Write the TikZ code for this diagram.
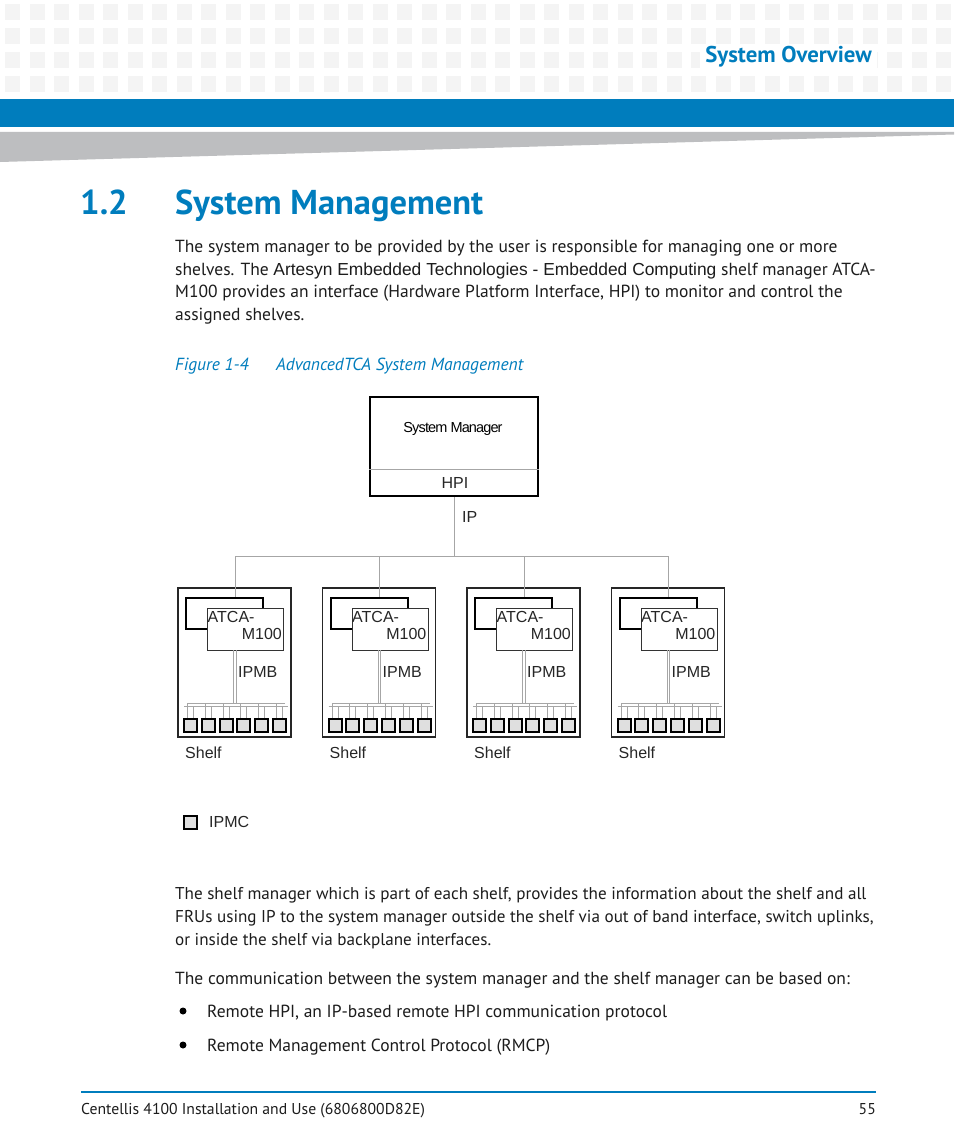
\documentclass[tikz,border=0pt]{standalone}
\usepackage{fontspec}
\setmainfont{PT Sans}
\newfontfamily\arialfont{Liberation Sans}
\newfontfamily\arialtight[LetterSpace=-6]{Liberation Sans}
\usetikzlibrary{positioning}
\definecolor{emblue}{RGB}{0,125,189}
\definecolor{tilegray}{RGB}{244,244,244}
\definecolor{wedgegray}{RGB}{189,190,192}
\definecolor{bodyblack}{RGB}{28,28,28}

\begin{document}
\begin{tikzpicture}[x=1pt,y=-1pt,
 body/.style={anchor=base west,inner sep=0pt,text=bodyblack,font=\fontsize{17.5}{23}\selectfont},
 bodynarrow/.style={body,font=\fontsize{17.1}{23}\selectfont},
 lbl/.style={inner sep=0pt,text=black!85,font=\arialfont\fontsize{16}{18}\selectfont},
 wire/.style={draw=gray!70,line width=0.9pt},
 shelfbox/.style={draw=black!85,line width=1.8pt,minimum width=113pt,minimum height=149pt,inner sep=0pt},
 backbox/.style={draw=black,line width=2pt,minimum width=77pt,minimum height=31pt,inner sep=0pt},
 frontbox/.style={draw=black!80,line width=0.8pt,fill=white,minimum width=76pt,minimum height=42pt,inner sep=0pt},
 ipmc/.style={draw=black,line width=2pt,fill=gray!25,minimum width=13pt,minimum height=13pt,inner sep=0pt},
 bulletdot/.style={circle,fill=black,minimum size=7pt,inner sep=0pt}]
\useasboundingbox (0,0) rectangle (954,1145);
\fill[white] (0,0) rectangle (954,1145);

% header tiles
\foreach \r in {0,...,3}
 \foreach \c in {0,...,38}
  \fill[tilegray] (5+24.5*\c,4+24*\r) rectangle ++(15,16);
\node[anchor=base east,fill=white,inner xsep=5pt,inner ysep=1pt,text=emblue,
 font=\bfseries\fontsize{22.8}{24}\selectfont] (chapter) at (877,63) {System Overview};
\fill[emblue] (0,99) rectangle (954,127);
\fill[wedgegray] (0,132) -- (954,132) -- (954,134.5) -- (0,162) -- cycle;

% section title
\node[anchor=base west,inner sep=0pt,text=emblue,font=\bfseries\fontsize{34.5}{40}\selectfont] (secnum) at (80,214) {1.2};
\node[anchor=base west,inner sep=0pt,text=emblue,font=\bfseries\fontsize{34.5}{40}\selectfont] (sectitle) at (175,214) {System Management};

% first paragraph
\node[body] (p1a) at (175,252) {The system manager to be provided by the user is responsible for managing one or more};
\node[body] (p1b) at (175,275) {shelves. The {\arialfont\fontsize{17.4}{23}\selectfont Artesyn Embedded Technologies - Embedded Computing} shelf manager ATCA-};
\node[body] (p1c) at (175,297) {M100 provides an interface (Hardware Platform Interface, HPI) to monitor and control the};
\node[body] (p1d) at (175,320) {assigned shelves.};

% caption
\node[body,text=emblue,font=\itshape\fontsize{17.5}{23}\selectfont] (capnum) at (175,370) {Figure 1-4};
\node[body,text=emblue,font=\itshape\fontsize{17.5}{23}\selectfont] (captext) at (276,370) {AdvancedTCA System Management};

% system manager
\node[draw=black,line width=2pt,minimum width=168pt,minimum height=99pt,inner sep=0pt] (sysmgr) at (454,446.5) {};
\draw[gray!70,line width=1pt] (sysmgr.west |- 0,469) -- (sysmgr.east |- 0,469);
\node[lbl,font=\arialtight\fontsize{14.5}{16}\selectfont,text=black] (smtext) at (453,429) {System Manager};
\node[lbl] (hpi) at (455,483) {HPI};
\coordinate (ipjoin) at (454,556);
\draw[wire] (sysmgr.south) -- (ipjoin);
\node[lbl,anchor=west] (iplbl) at (462,517) {IP};

% shelves
\foreach \i in {0,...,3}{
 \pgfmathsetmacro\xo{178+144.5*\i}
 \coordinate (bus\i) at (\xo+57,556);
 \node[shelfbox] (shelf\i) at (\xo+56.5,662.5) {};
 \node[backbox] (back\i) at (\xo+46.5,613.5) {};
 \node[frontbox] (front\i) at (\xo+67.5,629) {};
 \node[lbl,anchor=west] (atca\i) at (\xo+29.5,617) {ATCA-};
 \node[lbl,anchor=east] (mhun\i) at (\xo+104,634) {M100};
 \draw[wire] (bus\i) -- (bus\i |- back\i.north);
 \coordinate (tap\i) at (\xo+57,703);
 \draw[wire,line width=1.1pt] ([xshift=-1.3pt]front\i.south -| tap\i) -- ([xshift=-1.3pt]tap\i);
 \draw[wire,line width=1.1pt] ([xshift=1.3pt]front\i.south -| tap\i) -- ([xshift=1.3pt]tap\i);
 \node[lbl,anchor=west] (ipmb\i) at (\xo+60,672) {IPMB};
 \coordinate (busa\i) at (\xo+10,703);
 \coordinate (busb\i) at (\xo+6,706.5);
 \draw[wire] (busa\i) -- ++(97,0);
 \draw[wire] (busb\i) -- ++(104,0);
 \foreach \k in {0,...,5}{
  \node[ipmc] (ipmc\i\k) at (\xo+12.5+17.8*\k,725.5) {};
  \draw[wire] ([xshift=-3pt]ipmc\i\k.north) -- +(0,-15);
  \draw[wire] ([xshift=3pt]ipmc\i\k.north) -- +(0,-11.5);
 }
 \node[lbl,anchor=west] (shelflbl\i) at (\xo+7,753) {Shelf};
}
\draw[wire] (bus0) -- (bus3);

% legend
\node[ipmc] (legend) at (190.5,822) {};
\node[lbl,right=11pt of legend] (legendlbl) {IPMC};

% second paragraph
\node[bodynarrow] (p2a) at (175,899) {The shelf manager which is part of each shelf, provides the information about the shelf and all};
\node[bodynarrow] (p2b) at (175,922) {FRUs using IP to the system manager outside the shelf via out of band interface, switch uplinks,};
\node[bodynarrow] (p2c) at (175,945) {or inside the shelf via backplane interfaces.};
\node[body] (p3) at (175,984) {The communication between the system manager and the shelf manager can be based on:};
\node[bulletdot] (dot1) at (183,1011) {};
\node[body] (item1) at (207,1017) {Remote HPI, an IP-based remote HPI communication protocol};
\node[bulletdot] (dot2) at (183,1045) {};
\node[body] (item2) at (207,1051) {Remote Management Control Protocol (RMCP)};

% footer
\coordinate (footl) at (81,1092);
\coordinate (footr) at (876,1092);
\draw[emblue,line width=2pt] (footl) -- (footr);
\node[body,font=\fontsize{15.7}{18}\selectfont] (foottext) at (81,1114) {Centellis 4100 Installation and Use (6806800D82E)};
\node[body,anchor=base east,font=\fontsize{15.7}{18}\selectfont] (pagenum) at (876,1114) {55};
\end{tikzpicture}
\end{document}
